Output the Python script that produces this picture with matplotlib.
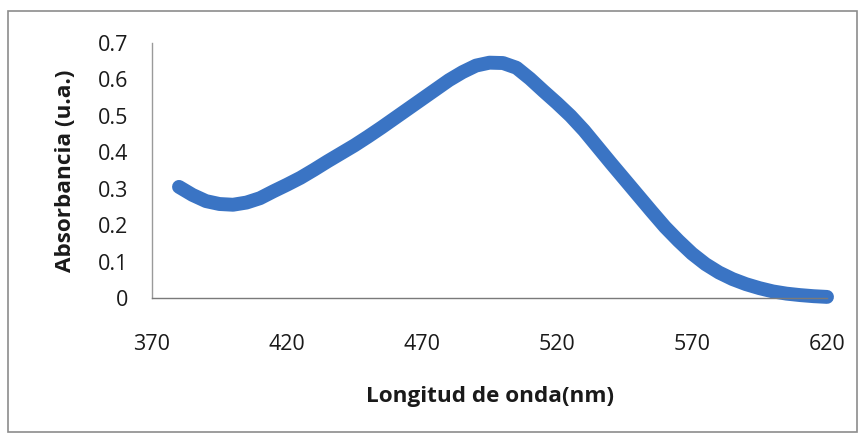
import matplotlib
matplotlib.use("Agg")
import matplotlib.pyplot as plt
from matplotlib.patches import Rectangle

wavelength = [380, 385, 390, 395, 400, 405, 410, 415, 420, 425, 430, 435, 440, 445,
              450, 455, 460, 465, 470, 475, 480, 485, 490, 495, 500, 505, 510, 515,
              520, 525, 530, 535, 540, 545, 550, 555, 560, 565, 570, 575, 580, 585,
              590, 595, 600, 605, 610, 615, 620]
absorbance = [0.305, 0.283, 0.266, 0.258, 0.256, 0.262, 0.274, 0.293, 0.311, 0.330,
              0.352, 0.375, 0.397, 0.419, 0.443, 0.468, 0.494, 0.520, 0.546, 0.572,
              0.598, 0.620, 0.638, 0.646, 0.645, 0.632, 0.602, 0.568, 0.535, 0.500,
              0.460, 0.415, 0.370, 0.326, 0.282, 0.238, 0.195, 0.157, 0.122, 0.093,
              0.070, 0.052, 0.038, 0.027, 0.018, 0.012, 0.008, 0.005, 0.003]
x_ticks = [370, 420, 470, 520, 570, 620]
y_ticks = [0, 0.1, 0.2, 0.3, 0.4, 0.5, 0.6, 0.7]
y_tick_labels = ["0", "0.1", "0.2", "0.3", "0.4", "0.5", "0.6", "0.7"]

plt.rcParams['font.family'] = ['Open Sans', 'DejaVu Sans']

W, H = 865, 437
fig = plt.figure(figsize=(W / 100, H / 100), dpi=100)
fig.patch.set_facecolor('white')

# outer chart border
fig.add_artist(Rectangle((8 / W, 1 - 432 / H), (857 - 8) / W, (432 - 11) / H,
                         transform=fig.transFigure, fill=False,
                         edgecolor='#8c8c8c', linewidth=1.2))

ax = fig.add_axes([152 / W, 1 - 298 / H, (827 - 152) / W, (298 - 43) / H])
ax.plot(wavelength, absorbance, color='#3A74C4', linewidth=10,
        solid_capstyle='round', solid_joinstyle='round', clip_on=False)

ax.set_xlim(370, 620)
ax.set_ylim(0, 0.7)
ax.set_xticks(x_ticks)
ax.set_xticklabels([str(t) for t in x_ticks])
ax.set_yticks(y_ticks)
ax.set_yticklabels(y_tick_labels)

for s in ['top', 'right']:
    ax.spines[s].set_visible(False)
ax.spines['left'].set_color('#9a9a9a')
ax.spines['bottom'].set_color('#7a7a7a')
ax.spines['left'].set_linewidth(1.0)
ax.spines['bottom'].set_linewidth(1.0)

ax.tick_params(axis='x', length=0, pad=26, labelsize=15.5, colors='#1a1a1a')
ax.tick_params(axis='y', length=0, pad=17, labelsize=15.5, colors='#1a1a1a')

ax.set_xlabel('Longitud de onda(nm)', fontsize=16.2, fontweight='bold',
              color='#1a1a1a', labelpad=22)
ax.set_ylabel('Absorbancia (u.a.)', fontsize=16.2, fontweight='bold',
              color='#1a1a1a', labelpad=16)

fig.savefig('out.png', dpi=100, facecolor='white')
